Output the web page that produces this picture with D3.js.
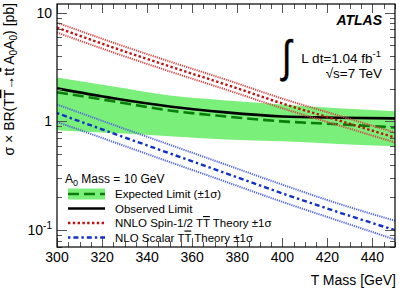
<!DOCTYPE html>
<html>
<head>
<meta charset="utf-8">
<script src="https://cdn.jsdelivr.net/npm/d3@7"></script>
<style>
  html, body { margin: 0; padding: 0; background: #fff; }
  svg { display: block; font-family: "Liberation Sans", Arial, Helvetica, sans-serif; }
</style>
</head>
<body>
<svg id="chart" width="399" height="293"></svg>
<script>
// ---- data ----
const masses = [300, 325, 350, 375, 400, 425, 450];
const expectedLimit = [1.85, 1.53, 1.26, 1.11, 1.00, 0.94, 0.88];
const expectedUp    = [2.53, 2.09, 1.73, 1.56, 1.43, 1.32, 1.24];
const expectedDown  = [0.83, 0.78, 0.73, 0.68, 0.655, 0.62, 0.59];
const observedLimit = [2.01, 1.63, 1.37, 1.21, 1.11, 1.08, 1.065];
const nnloSpinHalf     = [7.28, 4.77, 3.20, 2.18, 1.46, 1.02, 0.71];
const nnloSpinHalfUp   = [8.08, 5.29, 3.55, 2.42, 1.62, 1.13, 0.79];
const nnloSpinHalfDown = [6.56, 4.30, 2.88, 1.96, 1.32, 0.92, 0.64];
const nloScalar     = [1.19, 0.776, 0.508, 0.333, 0.218, 0.146, 0.100];
const nloScalarUp   = [1.43, 0.93, 0.61, 0.40, 0.262, 0.175, 0.122];
const nloScalarDown = [0.99, 0.647, 0.423, 0.278, 0.182, 0.122, 0.082];
const xMajorTicks = [300, 320, 340, 360, 380, 400, 420, 440];
const yMajorTicks = [0.1, 1, 10];

// ---- layout ----
const svg = d3.select("#chart");
const L = 57, R = 395, T = 4, B = 247;
const x = d3.scaleLinear().domain([300, 450]).range([L, R]);
const y = d3.scaleLog().domain([0.07, 12]).range([B, T]);

svg.append("defs").append("clipPath").attr("id", "clip")
  .append("rect").attr("x", L).attr("y", T).attr("width", R - L).attr("height", B - T);

const plot = svg.append("g").attr("clip-path", "url(#clip)");
const idx = d3.range(masses.length);
const line = arr => d3.line().curve(d3.curveMonotoneX)
  .x(i => x(masses[i])).y(i => y(arr[i]))(idx);

// green band
plot.append("path")
  .attr("d", d3.area().curve(d3.curveMonotoneX)
    .x(i => x(masses[i])).y0(i => y(expectedDown[i])).y1(i => y(expectedUp[i]))(idx))
  .attr("fill", "#7aef7a");

// expected & observed
plot.append("path").attr("d", line(expectedLimit)).attr("fill", "none")
  .attr("stroke", "#0a7d0a").attr("stroke-width", 2.6).attr("stroke-dasharray", "11,5");
plot.append("path").attr("d", line(observedLimit)).attr("fill", "none")
  .attr("stroke", "#000").attr("stroke-width", 2.6);

// NNLO spin-1/2
[nnloSpinHalfUp, nnloSpinHalfDown].forEach(a => {
  plot.append("path").attr("d", line(a)).attr("fill", "none")
    .attr("stroke", "#d64a4a").attr("stroke-width", 2).attr("stroke-dasharray", "1.2,1");
});
plot.append("path").attr("d", line(nnloSpinHalf)).attr("fill", "none")
  .attr("stroke", "#c01010").attr("stroke-width", 2.4).attr("stroke-dasharray", "2.4,2.4");

// NLO scalar
[nloScalarUp, nloScalarDown].forEach(a => {
  plot.append("path").attr("d", line(a)).attr("fill", "none")
    .attr("stroke", "#5468e0").attr("stroke-width", 2).attr("stroke-dasharray", "1.2,1");
});
plot.append("path").attr("d", line(nloScalar)).attr("fill", "none")
  .attr("stroke", "#1030c8").attr("stroke-width", 2.4).attr("stroke-dasharray", "2.4,3,5,3");

// ---- axes frame & ticks ----
const tickG = svg.append("g").attr("stroke", "#555").attr("stroke-width", 1);
const xMinor = d3.range(300, 451, 5);
xMinor.forEach(v => {
  const major = xMajorTicks.includes(v);
  const len = major ? 9 : 5;
  const px = Math.round(x(v)) + 0.5;
  tickG.append("line").attr("x1", px).attr("x2", px).attr("y1", B).attr("y2", B - len);
  tickG.append("line").attr("x1", px).attr("x2", px).attr("y1", T).attr("y2", T + len);
});
const yTicksAll = [];
[0.01, 0.1, 1, 10].forEach(d => { for (let k = 1; k <= 9; k++) yTicksAll.push(+(k * d).toPrecision(3)); });
yTicksAll.filter(v => v >= 0.07 && v <= 12).forEach(v => {
  const major = yMajorTicks.includes(v);
  const len = major ? 10 : 5;
  const py = Math.round(y(v)) + 0.5;
  tickG.append("line").attr("x1", L).attr("x2", L + len).attr("y1", py).attr("y2", py);
  tickG.append("line").attr("x1", R).attr("x2", R - len).attr("y1", py).attr("y2", py);
});
svg.append("rect").attr("x", L).attr("y", T).attr("width", R - L).attr("height", B - T)
  .attr("fill", "none").attr("stroke", "#000").attr("stroke-width", 1.2);

// x tick labels
svg.append("g").selectAll("text").data(xMajorTicks).join("text")
  .attr("x", d => x(d)).attr("y", 262).attr("text-anchor", "middle")
  .attr("font-size", 14).text(d => d);

// y tick labels
yMajorTicks.forEach(v => {
  const t = svg.append("text").attr("x", 52).attr("y", y(v) + 5)
    .attr("text-anchor", "end").attr("font-size", 14);
  if (v === 10) t.text("10");
  else if (v === 1) t.text("1");
  else {
    t.append("tspan").text("10");
    t.append("tspan").attr("dy", -6).attr("font-size", 10).text("-1");
  }
});

// axis titles
svg.append("text").attr("x", 396).attr("y", 285).attr("text-anchor", "end")
  .attr("font-size", 14).text("T Mass [GeV]");

const yt = svg.append("text").attr("transform", "translate(14,3) rotate(-90)")
  .attr("text-anchor", "end").attr("font-size", 14);
yt.append("tspan").text("σ × BR(T");
yt.append("tspan").attr("text-decoration", "overline").text("T");
yt.append("tspan").text("→t");
yt.append("tspan").attr("text-decoration", "overline").text("t");
yt.append("tspan").text(" A");
yt.append("tspan").attr("font-size", 10).attr("dy", 3).text("0");
yt.append("tspan").attr("dy", -3).text("A");
yt.append("tspan").attr("font-size", 10).attr("dy", 3).text("0");
yt.append("tspan").attr("dy", -3).text(") [pb]");

// ATLAS label
svg.append("text").attr("x", 382).attr("y", 25).attr("text-anchor", "end")
  .attr("font-size", 14).attr("font-weight", "bold").attr("font-style", "italic").text("ATLAS");
svg.append("text").attr("transform", "translate(282,72) scale(1.15,1.5)").attr("font-size", 30)
  .attr("stroke", "#000").attr("stroke-width", 0.3).text("∫");
const lum = svg.append("text").attr("x", 381).attr("y", 63).attr("text-anchor", "end").attr("font-size", 13.5);
lum.append("tspan").text("L dt=1.04 fb");
lum.append("tspan").attr("dy", -6).attr("font-size", 9.5).text("-1");
svg.append("text").attr("x", 382).attr("y", 78).attr("text-anchor", "end")
  .attr("font-size", 13.5).text("√s=7 TeV");

// legend
const lg = svg.append("g");
const hdr = lg.append("text").attr("x", 65).attr("y", 183).attr("font-size", 12);
hdr.append("tspan").text("A");
hdr.append("tspan").attr("font-size", 9).attr("dy", 3).text("0");
hdr.append("tspan").attr("dy", -3).text(" Mass = 10 GeV");

const rows = [194, 208.5, 223, 237.5];
const lx0 = 68, lx1 = 105, tx = 115;
lg.append("rect").attr("x", lx0).attr("y", rows[0] - 5.5).attr("width", lx1 - lx0).attr("height", 11)
  .attr("fill", "#7aef7a");
lg.append("line").attr("x1", lx0).attr("x2", lx1).attr("y1", rows[0]).attr("y2", rows[0])
  .attr("stroke", "#0a7d0a").attr("stroke-width", 2.6).attr("stroke-dasharray", "11,5");
lg.append("line").attr("x1", lx0).attr("x2", lx1).attr("y1", rows[1]).attr("y2", rows[1])
  .attr("stroke", "#000").attr("stroke-width", 2.6);
lg.append("line").attr("x1", lx0).attr("x2", lx1).attr("y1", rows[2]).attr("y2", rows[2])
  .attr("stroke", "#c01010").attr("stroke-width", 2.4).attr("stroke-dasharray", "2.4,2.4");
lg.append("line").attr("x1", lx0).attr("x2", lx1).attr("y1", rows[3]).attr("y2", rows[3])
  .attr("stroke", "#1030c8").attr("stroke-width", 2.4).attr("stroke-dasharray", "2.4,3,5,3");

const legText = (yy) => lg.append("text").attr("x", tx).attr("y", yy + 4).attr("font-size", 11.5);
legText(rows[0]).text("Expected Limit (±1σ)");
legText(rows[1]).text("Observed Limit");
const t3 = legText(rows[2]);
t3.append("tspan").text("NNLO Spin-1/2 T");
t3.append("tspan").attr("text-decoration", "overline").text("T");
t3.append("tspan").text(" Theory ±1σ");
const t4 = legText(rows[3]);
t4.append("tspan").text("NLO Scalar T");
t4.append("tspan").attr("text-decoration", "overline").text("T");
t4.append("tspan").text(" Theory ±1σ");
</script>
</body>
</html>
